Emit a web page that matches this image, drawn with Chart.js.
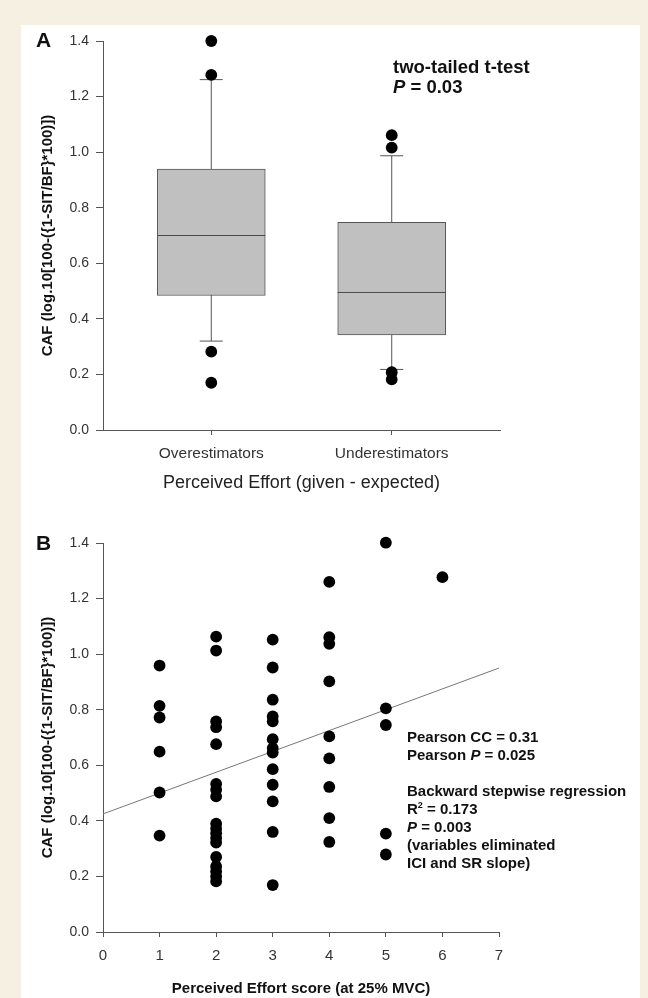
<!DOCTYPE html>
<html>
<head>
<meta charset="utf-8">
<script src="https://cdn.jsdelivr.net/npm/chart.js@4.4.1/dist/chart.umd.min.js"></script>
<style>
  html, body { margin: 0; padding: 0; }
  body { width: 648px; height: 998px; background: #f5f0e1; position: relative; overflow: hidden;
         font-family: 'Liberation Sans', Arial, sans-serif; }
  #sheet { position: absolute; left: 21px; top: 25px; width: 619px; height: 973px; background: #fff; }
  canvas { position: absolute; left: 21px; }
  #chartA { top: 25px; }
  #chartB { top: 510px; }
  .note { position: absolute; color: #111; font-weight: bold; white-space: nowrap; }
  .panel { font-size: 21px; line-height: 21px; left: 36px; }
  .stats { font-size: 15px; line-height: 18px; }
</style>
</head>
<body>
<div id="sheet"></div>
<canvas id="chartA" width="619" height="485"></canvas>
<canvas id="chartB" width="619" height="488"></canvas>

<div class="note panel" style="top:29px">A</div>
<div class="note panel" style="top:532px">B</div>
<div class="note" style="left:393px; top:57px; font-size:18.5px; line-height:20px">two-tailed t-test<br><i>P</i> = 0.03</div>
<div class="note stats" style="left:407px; top:728px">Pearson CC = 0.31<br>Pearson <i>P</i> = 0.025<br><br>Backward stepwise regression<br>R<sup style="font-size:9px; line-height:0">2</sup> = 0.173<br><i>P</i> = 0.003<br>(variables eliminated<br>ICI and SR slope)</div>

<script>
// panel A: box plot summary per group
const groups = ['Overestimators', 'Underestimators'];
const groupX = [1, 2];
const lowerQuartile = [0.484, 0.342];
const medianCaf = [0.700, 0.495];
const upperQuartile = [0.939, 0.747];
const whiskerLow = [0.320, 0.218];
const whiskerHigh = [1.261, 0.987];
const outliersOver = [1.400, 1.278, 0.282, 0.170];
const outliersUnder = [1.061, 1.016, 0.208, 0.182];

// panel B: CAF by perceived effort score
const cafScore1 = [0.959, 0.814, 0.772, 0.649, 0.502, 0.347];
const cafScore2 = [1.063, 1.013, 0.758, 0.737, 0.676, 0.533, 0.512, 0.488, 0.390, 0.372,
                   0.355, 0.338, 0.322, 0.270, 0.236, 0.218, 0.200, 0.182];
const cafScore3 = [1.052, 0.952, 0.836, 0.776, 0.758, 0.694, 0.662, 0.646, 0.586, 0.530, 0.470, 0.360, 0.169];
const cafScore4 = [1.260, 1.061, 1.037, 0.902, 0.704, 0.625, 0.522, 0.410, 0.324];
const cafScore5 = [1.401, 0.805, 0.745, 0.354, 0.279];
const cafScore6 = [1.277];
const fitX = [0, 7];
const fitY = [0.425, 0.950];

const yTicks = [0, 0.2, 0.4, 0.6, 0.8, 1.0, 1.2, 1.4];
const effortTicks = [0, 1, 2, 3, 4, 5, 6, 7];

const AXIS = '#555';
const TEXT = '#333';
const BOX_W = 108;
const DOT_R = 5.9;
const SANS = "'Liberation Sans', Arial, sans-serif";

Chart.defaults.animation = false;
Chart.defaults.responsive = false;
Chart.defaults.devicePixelRatio = 1;
Chart.defaults.layout.autoPadding = false;
Chart.defaults.plugins.legend.display = false;
Chart.defaults.plugins.tooltip.enabled = false;

function cafAxis() {
    return {
        type: 'linear', min: 0, max: 1.4,
        afterBuildTicks: s => { s.ticks = yTicks.map(v => ({ value: v })); },
        afterFit: s => { s.width = 82; },
        ticks: { callback: v => v.toFixed(1), font: { family: SANS, size: 14 }, color: TEXT, padding: 7 },
        grid: { drawOnChartArea: false, tickLength: 7, color: AXIS },
        border: { color: AXIS, width: 1 },
        title: { display: true, text: 'CAF (log.10[100-({1-SIT/BF}*100)])', color: '#111',
                 font: { family: SANS, size: 15, weight: 'bold' }, padding: { top: 18, bottom: 0 } }
    };
}

// box plot A
const boxes = groupX.map((x, i) => ({ x: x, y: [lowerQuartile[i], upperQuartile[i]] }));
const whiskers = groupX.map((x, i) => ({
    type: 'line', order: 3, borderColor: AXIS, borderWidth: 1, pointRadius: 0, clip: false,
    data: [{ x: x, y: whiskerLow[i] }, { x: x, y: whiskerHigh[i] }]
}));
const medians = groupX.map((x, i) => ({ x: x, y: medianCaf[i] }));
const caps = [];
groupX.forEach((x, i) => { caps.push({ x: x, y: whiskerLow[i] }, { x: x, y: whiskerHigh[i] }); });
const outliers = outliersOver.map(y => ({ x: groupX[0], y: y }))
    .concat(outliersUnder.map(y => ({ x: groupX[1], y: y })));

new Chart(document.getElementById('chartA'), {
    type: 'bar',
    data: {
        datasets: [
            { type: 'bar', order: 2, data: boxes, backgroundColor: '#c0c0c0', borderColor: '#555',
              borderWidth: 1, borderSkipped: false, barThickness: BOX_W },
            ...whiskers,
            { type: 'scatter', order: 1, data: medians, pointStyle: 'line', pointRadius: BOX_W / 2,
              borderColor: '#4a4a4a', borderWidth: 1, clip: false },
            { type: 'scatter', order: 1, data: caps, pointStyle: 'line', pointRadius: 11.5,
              borderColor: AXIS, borderWidth: 1, clip: false },
            { type: 'scatter', order: 0, data: outliers, pointRadius: DOT_R,
              backgroundColor: '#000', borderWidth: 0, clip: false }
        ]
    },
    options: {
        layout: { padding: { left: 0, right: 140, top: 16, bottom: 0 } },
        scales: {
            x: {
                type: 'linear', min: 0.4, max: 2.6, offset: false,
                afterBuildTicks: s => { s.ticks = groupX.map(v => ({ value: v })); },
                afterFit: s => { s.height = 80; },
                ticks: { callback: (v, i) => groups[i], autoSkip: false, maxRotation: 0,
                         font: { family: SANS, size: 15.5 }, color: TEXT, padding: 9 },
                grid: { offset: false, drawOnChartArea: false, tickLength: 5, color: AXIS },
                border: { color: AXIS, width: 1 },
                title: { display: true, text: 'Perceived Effort (given - expected)', color: '#222',
                         font: { family: SANS, size: 18 }, padding: { top: 0, bottom: 16 } }
            },
            y: cafAxis()
        }
    }
});

// scatter B
const scorePoints = [];
[cafScore1, cafScore2, cafScore3, cafScore4, cafScore5, cafScore6].forEach((list, i) => {
    list.forEach(y => scorePoints.push({ x: i + 1, y: y }));
});

new Chart(document.getElementById('chartB'), {
    type: 'scatter',
    data: {
        datasets: [
            { order: 0, data: scorePoints, pointRadius: DOT_R, backgroundColor: '#000', borderWidth: 0, clip: false },
            { type: 'line', order: 1, data: fitX.map((x, i) => ({ x: x, y: fitY[i] })),
              borderColor: '#777', borderWidth: 1, pointRadius: 0 }
        ]
    },
    options: {
        layout: { padding: { left: 0, right: 141, top: 33, bottom: 0 } },
        scales: {
            x: {
                type: 'linear', min: 0, max: 7,
                afterBuildTicks: s => { s.ticks = effortTicks.map(v => ({ value: v })); },
                afterFit: s => { s.height = 66; },
                ticks: { font: { family: SANS, size: 15 }, color: TEXT, padding: 10 },
                grid: { drawOnChartArea: false, tickLength: 5, color: AXIS },
                border: { color: AXIS, width: 1 },
                title: { display: true, text: 'Perceived Effort score (at 25% MVC)', color: '#111',
                         font: { family: SANS, size: 15, weight: 'bold' }, padding: { top: 0, bottom: 0 } }
            },
            y: cafAxis()
        }
    }
});
</script>
</body>
</html>
